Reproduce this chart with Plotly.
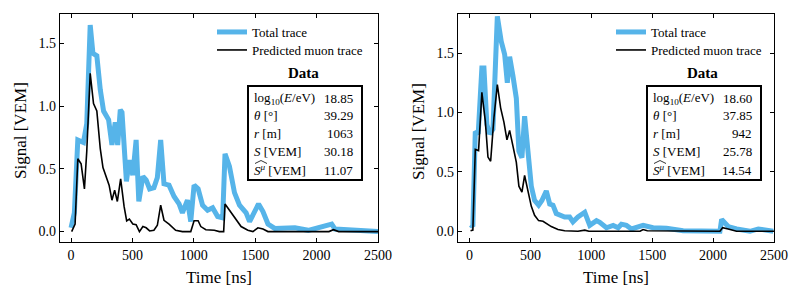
import plotly.graph_objects as go

# ---------------- data ----------------
# Left event
left_total_t = [0, 27, 55, 82, 101, 128, 156, 178, 210, 238, 265, 306, 333, 360, 380, 401, 415,
                451, 475, 503, 530, 552, 585, 612, 640, 675, 703, 730, 757, 798, 839, 880, 907,
                948, 975, 1002, 1035, 1071, 1112, 1153, 1194, 1235, 1254, 1290, 1331, 1372, 1426,
                1454, 1495, 1527, 1563, 1604, 1659, 1741, 1823, 1932, 1986, 2123, 2150, 2286, 2500]
left_total_v = [0.03, 0.15, 0.73, 0.72, 0.71, 0.86, 1.645, 1.42, 1.40, 1.13, 0.96, 0.89, 0.69, 0.87,
                0.69, 0.97, 0.95, 0.40, 0.57, 0.45, 0.73, 0.24, 0.44, 0.41, 0.34, 0.35, 0.43, 0.73,
                0.38, 0.37, 0.28, 0.22, 0.15, 0.25, 0.08, 0.37, 0.34, 0.21, 0.17, 0.19, 0.12, 0.11,
                0.62, 0.52, 0.31, 0.21, 0.15, 0.08, 0.17, 0.22, 0.16, 0.06, 0.025, 0.03, 0.03,
                0.01, 0.025, 0.06, 0.02, 0.01, 0.0]
left_muon_t = [5, 33, 55, 82, 109, 128, 156, 183, 210, 238, 260, 292, 310, 333, 355, 377, 404, 432,
               453, 475, 503, 530, 557, 585, 612, 640, 675, 703, 730, 757, 798, 852, 907, 975,
               1002, 1035, 1057, 1098, 1167, 1208, 1243, 1254, 1290, 1331, 1385, 1440, 1481,
               1522, 1563, 1604, 2100, 2137, 2180, 2500]
left_muon_v = [0.0, 0.06, 0.58, 0.54, 0.34, 0.64, 1.26, 1.02, 0.96, 0.66, 0.51, 0.42, 0.37, 0.25,
               0.33, 0.24, 0.42, 0.20, 0.085, 0.10, 0.06, 0.055, 0.0, 0.04, 0.03, 0.005, 0.01,
               0.05, 0.21, 0.09, 0.06, 0.01, 0.0, 0.0, 0.086, 0.086, 0.04, 0.015, 0.01, 0.0, 0.0,
               0.22, 0.17, 0.11, 0.04, 0.01, 0.0, 0.03, 0.02, 0.0, 0.0, 0.015, 0.0, 0.0]

# Right event
right_total_t = [8, 27, 47, 71, 101, 118, 142, 164, 192, 228, 260, 288, 310, 329, 356, 384, 405,
                 430, 452, 479, 507, 534, 567, 594, 630, 658, 685, 712, 748, 781, 822, 849, 890,
                 931, 946, 987, 1042, 1069, 1124, 1179, 1220, 1247, 1288, 1330, 1425, 1507, 1617,
                 1754, 1891, 2056, 2070, 2124, 2193, 2303, 2371, 2494]
right_total_v = [0.055, 0.04, 0.84, 0.82, 1.375, 1.375, 0.90, 0.82, 0.86, 1.81, 1.60, 1.49, 1.25,
                 1.47, 1.31, 1.12, 0.675, 0.62, 0.97, 0.66, 0.38, 0.26, 0.22, 0.26, 0.34, 0.23,
                 0.22, 0.15, 0.14, 0.12, 0.12, 0.08, 0.12, 0.15, 0.16, 0.05, 0.09, 0.075, 0.03,
                 0.05, 0.03, 0.06, 0.05, 0.02, 0.05, 0.03, 0.025, 0.005, 0.0, 0.0, 0.10, 0.04,
                 0.02, 0.0, 0.02, 0.0]
right_muon_t = [8, 27, 47, 74, 101, 129, 151, 173, 200, 228, 255, 282, 307, 329, 356, 384, 405,
                430, 452, 479, 507, 534, 567, 603, 638, 671, 726, 781, 890, 946, 980, 1400, 1425,
                1460, 2056, 2078, 2124, 2193, 2500]
right_muon_v = [0.005, 0.01, 0.69, 0.68, 1.17, 0.93, 0.625, 0.59, 0.955, 1.235, 1.04, 0.92, 0.77,
                0.85, 0.72, 0.58, 0.38, 0.33, 0.47, 0.35, 0.21, 0.135, 0.09, 0.085, 0.06, 0.04,
                0.015, 0.005, 0.0, 0.01, 0.0, 0.0, 0.015, 0.005, 0.0, 0.03, 0.02, 0.0, 0.0]

# Table content
row_labels = ["log<sub>10</sub>(<i>E</i>/eV)", "<i>θ</i> [°]", "<i>r</i> [m]",
              "<i>S</i> [VEM]", "<i>S</i><sup><i>μ</i></sup> [VEM]"]
left_values = ["18.85", "39.29", "1063", "30.18", "11.07"]
right_values = ["18.60", "37.85", "942", "25.78", "14.54"]

x_ticks = [0, 500, 1000, 1500, 2000, 2500]
y_ticks = [0.0, 0.5, 1.0, 1.5]

# ---------------- figure ----------------
# the page body has an 8 px margin, so the figure is 8 px smaller and
# window-pixel positions are shifted by 8 px
OFF = 8
W, H = 804 - OFF, 300 - OFF
BLUE = "#56B4E9"
FONT = "Liberation Serif"


def px(x):
    return (x - OFF) / W


def py(y):
    return 1 - (y - OFF) / H


fig = go.Figure()

fig.add_trace(go.Scatter(x=left_total_t, y=left_total_v, mode="lines", name="Total trace",
                         line=dict(color=BLUE, width=5), xaxis="x", yaxis="y", legend="legend"))
fig.add_trace(go.Scatter(x=left_muon_t, y=left_muon_v, mode="lines", name="Predicted muon trace",
                         line=dict(color="black", width=1.6), xaxis="x", yaxis="y", legend="legend2"))
fig.add_trace(go.Scatter(x=right_total_t, y=right_total_v, mode="lines", name="Total trace",
                         line=dict(color=BLUE, width=5), xaxis="x2", yaxis="y2", legend="legend3"))
fig.add_trace(go.Scatter(x=right_muon_t, y=right_muon_v, mode="lines", name="Predicted muon trace",
                         line=dict(color="black", width=1.6), xaxis="x2", yaxis="y2", legend="legend4"))

axis_common = dict(showline=True, linecolor="black", linewidth=1.3, mirror="ticks",
                   ticks="inside", ticklen=4, tickwidth=1, tickcolor="black",
                   showgrid=False, zeroline=False, automargin=False,
                   tickfont=dict(family=FONT, size=14, color="black"))


def leg(xp, yp):
    return dict(x=px(xp), y=py(yp), xanchor="left", yanchor="middle", bgcolor="rgba(0,0,0,0)",
                font=dict(family=FONT, size=13), itemwidth=30, borderwidth=0)


y_dom = [py(242), py(14)]
fig.update_layout(
    width=W, height=H,
    margin=dict(l=0, r=0, t=0, b=0, autoexpand=False),
    paper_bgcolor="white", plot_bgcolor="white",
    font=dict(family=FONT, color="black"),
    xaxis=dict(domain=[px(60), px(378)], range=[-90, 2500], tickvals=x_ticks, **axis_common),
    yaxis=dict(domain=y_dom, range=[-0.083, 1.733], tickvals=y_ticks, tickformat=".1f",
               anchor="x", **axis_common),
    xaxis2=dict(domain=[px(458), px(774)], range=[-95, 2500], tickvals=x_ticks, anchor="y2",
                **axis_common),
    yaxis2=dict(domain=y_dom, range=[-0.09, 1.83], tickvals=y_ticks, tickformat=".1f",
                anchor="x2", **axis_common),
    legend=leg(212, 32),
    legend2=leg(212, 50),
    legend3=leg(611, 32),
    legend4=leg(611, 50),
    showlegend=True,
)

annotations = []
shapes = []


def note(x, y, text, size, xanchor="center", **kw):
    return dict(x=px(x), y=py(y), xref="paper", yref="paper", text=text, showarrow=False,
                xanchor=xanchor, yanchor="middle", font=dict(family=FONT, size=size), **kw)


# Axis titles
for cx in (219, 616):
    annotations.append(note(cx, 277, "Time [ns]", 17))
for cx in (20, 418):
    annotations.append(note(cx, 131, "Signal [VEM]", 17, textangle=-90))

# Tables
row_y = [98, 115.3, 133.6, 151.9, 170.2]
for (bx0, bx1, values) in ((248, 362, left_values), (647, 761, right_values)):
    shapes.append(dict(type="rect", xref="paper", yref="paper",
                       x0=px(bx0), x1=px(bx1), y0=py(180), y1=py(86),
                       line=dict(color="black", width=2), fillcolor="white", layer="above"))
    annotations.append(note((bx0 + bx1) / 2 - 2, 73, "<b>Data</b>", 15))
    for lab, val, ry in zip(row_labels, values, row_y):
        annotations.append(note(bx0 + 4, ry, lab, 13, xanchor="left"))
        annotations.append(note(bx1 - 7, ry, val, 13, xanchor="right"))
    # wide hat over S^mu
    hx = bx0 + 7
    shapes.append(dict(type="path", xref="paper", yref="paper",
                       path=f"M {px(hx)} {py(163.5)} L {px(hx + 6)} {py(160.5)} L {px(hx + 12)} {py(163.5)}",
                       line=dict(color="black", width=0.8), layer="above"))

fig.update_layout(annotations=annotations, shapes=shapes)

fig.write_html("out.html")
